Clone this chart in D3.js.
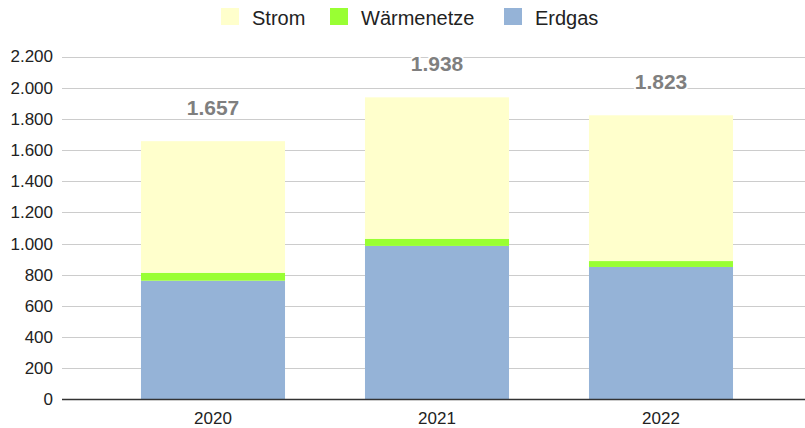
<!DOCTYPE html>
<html><head><meta charset="utf-8">
<script src="https://cdn.jsdelivr.net/npm/d3@7"></script>
<style>body{margin:0;background:#fff}svg{display:block;font-family:"Liberation Sans",Arial,sans-serif}</style>
</head><body><svg id="c" width="805" height="428"></svg>
<script>
const years = ["2020", "2021", "2022"];
const seriesNames = ["Erdgas", "Wärmenetze", "Strom"];
const erdgas = [762, 985, 850];
const waermenetze = [51, 46, 38];
const strom = [844, 907, 935];
const yTicks = [0, 200, 400, 600, 800, 1000, 1200, 1400, 1600, 1800, 2000, 2200];
const legendOrder = ["Strom", "Wärmenetze", "Erdgas"];
const colors = {"Strom": "#FFFFCC", "Wärmenetze": "#99FF33", "Erdgas": "#95B3D7"};

const loc = d3.formatLocale({decimal: ",", thousands: ".", grouping: [3], currency: ["", "€"]});
const fmt = loc.format(",d");

const svg = d3.select("#c");
const rows = years.map((y, i) => ({year: y, "Erdgas": erdgas[i], "Wärmenetze": waermenetze[i], "Strom": strom[i]}));
const stack = d3.stack().keys(seriesNames)(rows);

const x = d3.scaleBand().domain(years).range([101, 773]).paddingInner(0.357).paddingOuter(0.1785);
const y = d3.scaleLinear().domain([0, 2200]).range([399.5, 56.5]);

// gridlines
svg.append("g").selectAll("line").data(yTicks.filter(d => d > 0)).join("line")
  .attr("x1", 62).attr("x2", 805)
  .attr("y1", d => Math.round(y(d)) + 0.5).attr("y2", d => Math.round(y(d)) + 0.5)
  .attr("stroke", "#cccccc").attr("stroke-width", 1);

// y axis labels
const yAxis = d3.axisLeft(y).tickValues(yTicks).tickFormat(fmt).tickSize(0).tickPadding(0);
const ya = svg.append("g").attr("transform", "translate(53,0)").call(yAxis);
ya.select(".domain").remove();
ya.selectAll("text").attr("font-size", 17).attr("fill", "#222").attr("font-family", "Liberation Sans, Arial, sans-serif");

// bars
svg.append("g").selectAll("g").data(stack).join("g")
  .attr("fill", d => colors[d.key])
  .selectAll("rect").data(d => d).join("rect")
  .attr("x", d => x(d.data.year)).attr("width", x.bandwidth())
  .attr("y", d => y(d[1])).attr("height", d => y(d[0]) - y(d[1]));

// baseline
svg.append("line").attr("x1", 62).attr("x2", 805).attr("y1", 399.5).attr("y2", 399.5)
  .attr("stroke", "#333").attr("stroke-width", 1.5);

// x axis labels
const xAxis = d3.axisBottom(x).tickSize(0).tickPadding(0);
const xa = svg.append("g").attr("transform", "translate(0,412)").call(xAxis);
xa.select(".domain").remove();
xa.selectAll("text").attr("font-size", 17).attr("fill", "#222").attr("dy", "0.71em").attr("font-family", "Liberation Sans, Arial, sans-serif");

// totals
svg.append("g").selectAll("text").data(rows).join("text")
  .attr("x", d => x(d.year) + x.bandwidth() / 2)
  .attr("y", d => y(d["Erdgas"] + d["Wärmenetze"] + d["Strom"]) - 26)
  .attr("text-anchor", "middle").attr("font-size", 21).attr("font-weight", "bold")
  .attr("fill", "#7f7f7f").attr("stroke", "#fff").attr("stroke-width", 4).attr("paint-order", "stroke")
  .text(d => fmt(d["Erdgas"] + d["Wärmenetze"] + d["Strom"]));

// legend
const legX = {"Strom": 221, "Wärmenetze": 330, "Erdgas": 504};
const lg = svg.append("g").selectAll("g").data(legendOrder).join("g")
  .attr("transform", d => `translate(${legX[d]},8)`);
lg.append("rect").attr("width", 18).attr("height", 17).attr("fill", d => colors[d]);
lg.append("text").attr("x", 31).attr("y", 17).attr("font-size", 20).attr("fill", "#222").text(d => d);
</script></body></html>
